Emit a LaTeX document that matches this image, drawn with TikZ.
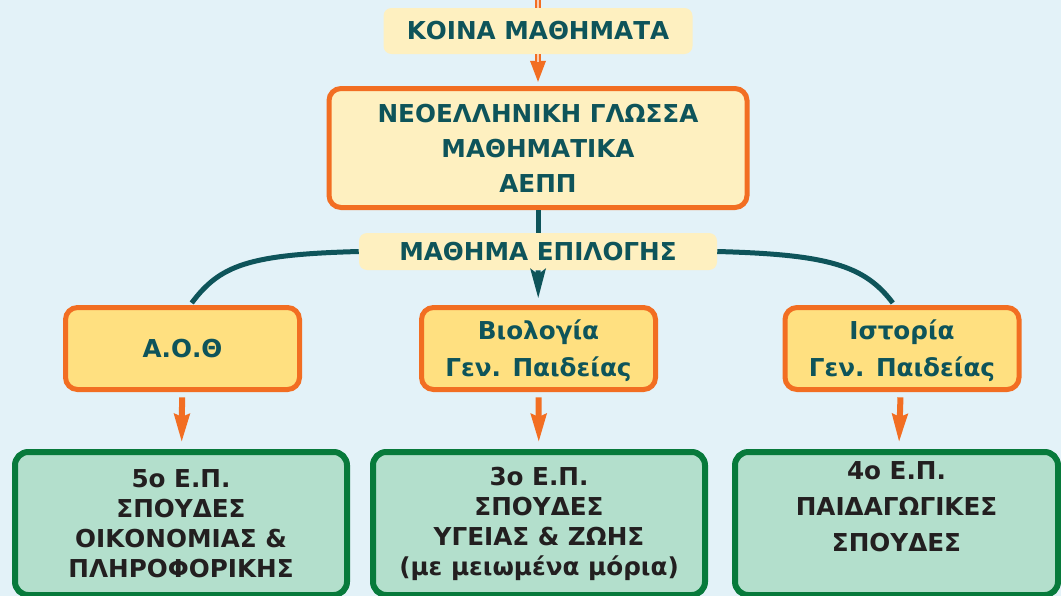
\documentclass[tikz,border=0pt]{standalone}
\usepackage{fontspec}
\setmainfont{DejaVu Sans}
\usetikzlibrary{arrows.meta}
\definecolor{bgc}{HTML}{E3F2F8}
\definecolor{lyel}{HTML}{FEF0C0}
\definecolor{dyel}{HTML}{FFE080}
\definecolor{orc}{HTML}{F26E22}
\definecolor{tlc}{HTML}{0E545A}
\definecolor{gfill}{HTML}{B3DFCC}
\definecolor{gline}{HTML}{077A3B}
\definecolor{txtc}{HTML}{231F20}
\tikzset{
    KB1/.style ={rectangle, rounded corners=6pt, fill=lyel, text=tlc, minimum width=231.75pt, minimum height=34.5pt},
    KB2/.style ={rectangle, rounded corners=6pt, fill=lyel, text=tlc, minimum width=268.5pt, minimum height=27.75pt},
    OR1/.style ={rectangle, rounded corners=9pt, draw=orc, line width=3.75pt, fill=lyel, text=tlc, align=center, minimum width=313.5pt, minimum height=89.25pt},
    OR2/.style ={rectangle, rounded corners=9pt, draw=orc, line width=3.75pt, fill=dyel, text=tlc, align=center, minimum width=175.5pt, minimum height=61.5pt},
    GR/.style ={rectangle, rounded corners=10pt, draw=gline, line width=4.5pt, fill=gfill, text=txtc, align=center, minimum width=249pt, minimum height=107.25pt},
    AO/.style ={orc, line width=4.5pt, -{Stealth[length=21pt,width=11.25pt,inset=2pt]}},
    AT/.style ={tlc, line width=3.75pt, -{Stealth[length=22pt,width=11.25pt,inset=4pt]}},
    LT/.style ={tlc, line width=3.75pt}}

\begin{document}
\begin{tikzpicture}[x=0.75pt, y=-0.75pt, every node/.append style={font=\bfseries\fontsize{18.5}{22.5}\selectfont}]
        \fill[bgc] (0,0) rectangle (1061,596);
        \useasboundingbox (0,0) rectangle (1061,596);
        \coordinate (0) at (538,-5);
        \node[KB1] (1) at(538,31){ΚΟΙΝΑ ΜΑΘΗΜΑΤΑ};
        \node[OR1, font=\bfseries\fontsize{18.5}{26.25}\selectfont] (2) at(538,148){ΝΕΟΕΛΛΗΝΙΚΗ ΓΛΩΣΣΑ\\ΜΑΘΗΜΑΤΙΚΑ\\ΑΕΠΠ};
        \node[KB2] (3) at(538,251.5){ΜΑΘΗΜΑ ΕΠΙΛΟΓΗΣ};
        \node[OR2] (4) at(182.5,348.5){Α.Ο.Θ};
        \node[OR2, font=\bfseries\fontsize{18.5}{27.75}\selectfont, text depth=0pt] (5) at(538.5,348.5){Βιολογία\\Γεν. Παιδείας};
        \node[OR2, font=\bfseries\fontsize{18.5}{27.75}\selectfont, text depth=0pt] (6) at(902,348.5){Ιστορία\\Γεν. Παιδείας};
        \node[GR] (7) at(181,523.5){5ο Ε.Π.\\ΣΠΟΥΔΕΣ\\ΟΙΚΟΝΟΜΙΑΣ \&\\ΠΛΗΡΟΦΟΡΙΚΗΣ};
        \node[GR] (8) at(539,523.5){3ο Ε.Π.\\ΣΠΟΥΔΕΣ\\ΥΓΕΙΑΣ \& ΖΩΗΣ\\(με μειωμένα μόρια)};
        \node[GR, minimum width=242.25pt, font=\bfseries\fontsize{18.5}{27}\selectfont, text depth=25pt] (9) at(896.5,523.5){4ο Ε.Π.\\ΠΑΙΔΑΓΩΓΙΚΕΣ\\ΣΠΟΥΔΕΣ};
        \draw[orc, line width=4.5pt] (0) -- (1);
        \draw[orc!35!white, line width=1.5pt] (0) -- (1);
        \draw[orc, line width=4.5pt, shorten >=1.9pt, -{Triangle[length=17pt,width=10.5pt]}] (1) -- (2);
        \draw[orc!35!white, line width=1.5pt, shorten >=18pt] (1) -- (2);
        \draw[LT] (2) -- (3);
        \draw[AT, shorten >=5pt] (3) -- (5);
        \draw[LT, shorten >=1.9pt] (3.west) .. controls +(-110,3) and +(30,-40) .. (4.80);
        \draw[LT, shorten >=1.9pt] (3.east) .. controls +(110,3) and +(-30,-40) .. (6.100);
        \draw[AO, shorten <=4pt, shorten >=5pt] (4) -- (7);
        \draw[AO, shorten <=4pt, shorten >=5pt] (5) -- (8);
        \draw[AO, shorten <=4pt, shorten >=5pt] (6) -- (9);
    \end{tikzpicture}
\end{document}
